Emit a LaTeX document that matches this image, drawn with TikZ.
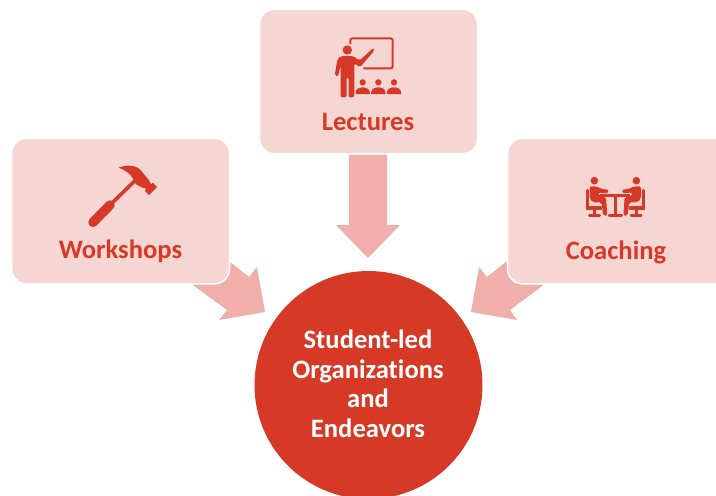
\documentclass[tikz,border=0pt]{standalone}
\usepackage{fontspec}
\setmainfont[RawFeature=-liga]{Carlito}
\definecolor{brick}{HTML}{D63A27}
\definecolor{boxpink}{HTML}{F6D6D3}
\definecolor{arrowpink}{HTML}{F0AFAA}
\tikzset{
  cardbox/.style={fill=boxpink,draw=white,line width=1.5pt,rounded corners=15pt},
  blockarrow/.style={fill=arrowpink,draw=none},
  cardlabel/.style={text=brick,font=\fontsize{26.6}{30}\selectfont\bfseries,inner sep=0pt,anchor=center},
  hublabel/.style={text=white,font=\fontsize{26.6}{29.5}\selectfont\bfseries,align=center,inner sep=0pt},
  icon/.style={fill=brick,draw=none},
  iconline/.style={draw=brick,line cap=butt}
}
\begin{document}
\begin{tikzpicture}[x=1pt,y=-1pt]
\useasboundingbox (0,0) rectangle (716,496);
% block arrows (drawn below the cards)
\fill[blockarrow] (349,140) -- (387,140) -- (387,225) -- (400,225) -- (368,258) -- (336,225) -- (349,225) -- cycle;
\fill[blockarrow] (215,250) -- (249,277) -- (257,267) -- (265,312) -- (219,320) -- (227,310) -- (175,272) -- cycle;
\fill[blockarrow] (521,250) -- (487,277) -- (479,267) -- (471,312) -- (517,320) -- (510,310) -- (561,272) -- cycle;
% cards
\node[cardbox,minimum width=218pt,minimum height=144.5pt,inner sep=0pt] (lectures) at (368.5,81.5) {};
\node[cardbox,minimum width=218pt,minimum height=145.5pt,inner sep=0pt] (workshops) at (120.5,211) {};
\node[cardbox,minimum width=240pt,minimum height=145.5pt,inner sep=0pt] (coaching) at (627.5,211) {};
% hub
\node[circle,fill=brick,minimum size=228pt,inner sep=0pt] (hub) at (368.5,385) {};
% labels
\node[cardlabel] (lbl1) at (368,122) {Lectures};
\node[cardlabel] (lbl2) at (120.5,251) {Workshops};
\node[cardlabel] (lbl3) at (616,252) {Coaching};
\node[hublabel] (lbl4) at (368,384) {Student-led\\Organizations\\and\\Endeavors};
% lecture icon
\begin{scope}[shift={(320,20)},scale=1/3]
  \draw[iconline,line width=1.9pt,rounded corners=2pt] (91,72) -- (91,55) -- (218,55) -- (218,145) -- (130,145);
  \fill[icon] (82,90) circle (14);
  \fill[icon,rounded corners=2pt] (62,108) -- (100,108) -- (118,122) -- (160,84) -- (165,89) -- (120,142) -- (103,130) -- (103,232) -- (86,232) -- (86,172) -- (80,172) -- (80,232) -- (62,232) -- (62,135) -- (54,170) -- (44,167) -- (52,118) -- cycle;
  \foreach \c in {128,175,222}{
    \fill[icon] (\c,187) circle (9.5);
    \fill[icon] (\c-21.5,222) -- (\c-21.5,218) .. controls (\c-21.5,207) and (\c-10,202) .. (\c,202) .. controls (\c+10,202) and (\c+21.5,207) .. (\c+21.5,218) -- (\c+21.5,222) -- cycle;
  }
\end{scope}
% hammer icon
\begin{scope}[shift={(80,155)},scale=1/3]
  \draw[iconline,line width=9.5pt,line cap=round] (39,202) -- (90,150);
  \draw[iconline,line width=3.6pt] (85,155) -- (166,76);
  \fill[icon] (116,38) .. controls (135,30) and (165,28) .. (182,45) -- (207,76) -- (213,88) -- (219,83) -- (231,96) -- (207,120) -- (195,108) -- (198,101) -- (185,97) -- (168,88) -- (160,72) .. controls (150,55) and (135,45) .. (116,38) -- cycle;
\end{scope}
% coaching icon
\begin{scope}[shift={(575,165)},scale=1/3]
  \foreach \s in {1,-1}{
    \begin{scope}[shift={(121,0)},xscale=\s]
      \fill[icon] (-63,47) circle (11.5);
      \fill[icon,rounded corners=2pt] (-77,64) -- (-56,64) -- (-38,73) -- (-21,73) -- (-21,84) -- (-40,84) -- (-50,82) -- (-50,93) -- (-28,96) -- (-24,152) -- (-37,152) -- (-41,112) -- (-68,112) -- (-77,100) -- cycle;
      \draw[iconline,line width=3.2pt,line cap=round] (-84,76) -- (-84,129) -- (-44,129);
      \draw[iconline,line width=2.6pt] (-63,128) -- (-63,150);
      \draw[iconline,line width=2.6pt,line cap=round] (-78,151) -- (-47,151);
    \end{scope}
  }
  \draw[iconline,line width=2.4pt] (76,92) -- (166,92);
  \draw[iconline,line width=3.2pt] (121,92) -- (121,150);
  \draw[iconline,line width=2.6pt,line cap=round] (102,151) -- (140,151);
\end{scope}
\end{tikzpicture}
\end{document}
